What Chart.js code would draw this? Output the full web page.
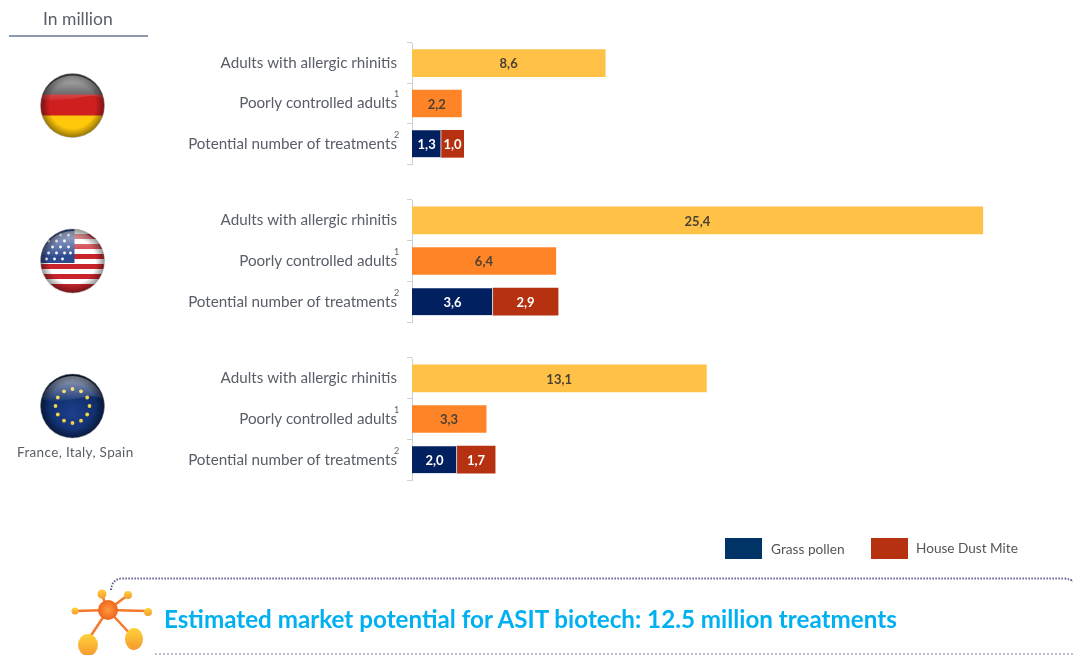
<!DOCTYPE html>
<html><head><meta charset="utf-8">
<script src="https://cdn.jsdelivr.net/npm/chart.js@4"></script>
<style>
html,body{margin:0;padding:0;background:#fff;overflow:hidden}
#page{position:relative;width:1073px;height:655px;filter:blur(0.35px);font-family:Lato,sans-serif;color:#595d68}
canvas.c{position:absolute;left:180px;width:832px}
.t{position:absolute;white-space:nowrap}
.sw{position:absolute;width:37px;height:21px}
svg{position:absolute;left:0;top:0}
</style></head>
<body><div id="page">
<svg width="1073" height="655" viewBox="0 0 1073 655">
<defs>
<clipPath id="cl"><circle cx="0" cy="0" r="32"/></clipPath>
<linearGradient id="gl" x1="0" y1="0" x2="0" y2="1"><stop offset="0" stop-color="#fff" stop-opacity=".6"/><stop offset="1" stop-color="#fff" stop-opacity=".05"/></linearGradient>
<radialGradient id="sh" cx=".5" cy=".5" r=".5"><stop offset=".72" stop-color="#000" stop-opacity="0"/><stop offset="1" stop-color="#000" stop-opacity=".42"/></radialGradient>
<radialGradient id="eu" cx=".5" cy=".62" r=".62"><stop offset="0" stop-color="#1d3f8c"/><stop offset=".75" stop-color="#0d2a63"/><stop offset="1" stop-color="#071634"/></radialGradient>
<radialGradient id="hub" cx=".5" cy=".5" r=".5"><stop offset="0" stop-color="#ff9a3c"/><stop offset="1" stop-color="#f0641e"/></radialGradient>
<linearGradient id="pe" x1="0" y1="0" x2="0" y2="1"><stop offset="0" stop-color="#ffd23c"/><stop offset="1" stop-color="#f59a2e"/></linearGradient>
<g id="gloss"><path d="M-31,-6 A32,32 0 0 1 31,-6 C15,-16 8,-2 -31,-6Z" fill="url(#gl)"/><circle r="32" fill="url(#sh)"/><circle r="32" fill="none" stroke="#9a9a9a" stroke-opacity=".5"/></g>
</defs>
<line x1="9" y1="36" x2="148" y2="36" stroke="#8d98a8" stroke-width="2"/>
<g transform="translate(72.5,105.5)"><g clip-path="url(#cl)"><rect x="-32" y="-32" width="64" height="22" fill="#4a4a4a"/><rect x="-32" y="-11" width="64" height="22" fill="#cf1f1f"/><rect x="-32" y="10" width="64" height="22" fill="#ffc80a"/></g><use href="#gloss"/></g>
<g transform="translate(72.5,261)"><g clip-path="url(#cl)"><rect x="-32" y="-32" width="64" height="64" fill="#fff"/>
<g fill="#c9242c"><rect x="-32" y="-27" width="64" height="5"/><rect x="-32" y="-17" width="64" height="5"/><rect x="-32" y="-7" width="64" height="5"/><rect x="-32" y="3" width="64" height="5"/><rect x="-32" y="13" width="64" height="5"/><rect x="-32" y="23" width="64" height="9"/></g>
<rect x="-32" y="-32" width="34" height="34" fill="#2e4a8e"/>
<g fill="#fff"><circle cx="-24" cy="-8" r="1.4"/><circle cx="-16" cy="-8" r="1.4"/><circle cx="-8" cy="-8" r="1.4"/><circle cx="-2" cy="-8" r="1.4"/><circle cx="-20" cy="-14" r="1.4"/><circle cx="-12" cy="-14" r="1.4"/><circle cx="-4" cy="-14" r="1.4"/><circle cx="-24" cy="-20" r="1.4"/><circle cx="-16" cy="-20" r="1.4"/><circle cx="-8" cy="-20" r="1.4"/><circle cx="-12" cy="-26" r="1.4"/><circle cx="-4" cy="-26" r="1.4"/><circle cx="-26" cy="-2" r="1.4"/><circle cx="-18" cy="-2" r="1.4"/><circle cx="-10" cy="-2" r="1.4"/></g></g><use href="#gloss"/></g>
<g transform="translate(72.5,406)"><circle r="32" fill="url(#eu)"/>
<g fill="#f2d24a"><circle cx="0" cy="-17" r="1.9"/><circle cx="8.5" cy="-14.7" r="1.9"/><circle cx="14.7" cy="-8.5" r="1.9"/><circle cx="17" cy="0" r="1.9"/><circle cx="14.7" cy="8.5" r="1.9"/><circle cx="8.5" cy="14.7" r="1.9"/><circle cx="0" cy="17" r="1.9"/><circle cx="-8.5" cy="14.7" r="1.9"/><circle cx="-14.7" cy="8.5" r="1.9"/><circle cx="-17" cy="0" r="1.9"/><circle cx="-14.7" cy="-8.5" r="1.9"/><circle cx="-8.5" cy="-14.7" r="1.9"/></g><use href="#gloss"/></g>
<path d="M111,590 Q112,579 122,578.5 L1063,578.5 Q1072,579 1073,582" fill="none" stroke="#5e5e90" stroke-width="2" stroke-dasharray="1.5 1.5"/>
<line x1="155" y1="654" x2="1073" y2="654" stroke="#7a7aa0" stroke-width="1" stroke-dasharray="2 2"/>
<g stroke="#f5792a" stroke-width="2.5" fill="none"><line x1="108" y1="610" x2="102" y2="595"/><line x1="108" y1="610" x2="128" y2="595"/><line x1="108" y1="610" x2="76" y2="611"/><line x1="108" y1="610" x2="147" y2="611"/><line x1="108" y1="610" x2="88" y2="640"/><line x1="108" y1="610" x2="133" y2="637"/></g>
<circle cx="108" cy="610" r="10" fill="url(#hub)"/>
<g fill="url(#pe)"><circle cx="102" cy="594" r="4.5"/><circle cx="128" cy="595" r="4"/><circle cx="75" cy="611" r="3.5"/><circle cx="148" cy="612" r="4"/><ellipse cx="88" cy="645" rx="10" ry="11"/><ellipse cx="134" cy="639" rx="9" ry="11"/></g>
</svg>

<div class="t" style="left:43px;top:9px;font-size:17.5px;line-height:20px">In million</div>
<div class="t" style="left:17px;top:444px;font-size:13.5px;line-height:16px;letter-spacing:.35px">France, Italy, Spain</div>
<div class="sw" style="left:725px;top:538px;background:#003366"></div>
<div class="t" style="left:771px;top:541px;font-size:13.7px;line-height:15px;color:#555">Grass pollen</div>
<div class="sw" style="left:871px;top:538px;background:#b5310f"></div>
<div class="t" style="left:916px;top:541px;font-size:13.6px;line-height:15px;color:#555">House Dust Mite</div>
<div class="t" style="left:164px;top:604px;font-size:24.2px;line-height:29px;font-weight:700;color:#00b0f0">Estimated market potential for ASIT biotech: 12.5 million treatments</div>

<canvas class="c" id="c1" style="top:42px" width="832" height="124"></canvas>
<canvas class="c" id="c2" style="top:199px" width="832" height="125"></canvas>
<canvas class="c" id="c3" style="top:357px" width="832" height="125"></canvas>
</div>
<script>
const categories = ['Adults with allergic rhinitis', 'Poorly controlled adults', 'Potential number of treatments'];
const footnotes = ['', '1', '2'];
const germanyTotals = [8.6, 2.2, null];
const germanyGrass = [null, null, 1.3];
const germanyMite = [null, null, 1.0];
const usaTotals = [25.4, 6.4, null];
const usaGrass = [null, null, 3.6];
const usaMite = [null, null, 2.9];
const euTotals = [13.1, 3.3, null];
const euGrass = [null, null, 2.0];
const euMite = [null, null, 1.7];
const xMax = 26.7;

const barLabels = {
  id: 'barLabels',
  afterDatasetsDraw(chart) {
    const ctx = chart.ctx;
    ctx.save();
    ctx.font = 'bold 13px Lato, sans-serif';
    ctx.textAlign = 'center';
    ctx.textBaseline = 'middle';
    chart.data.datasets.forEach((ds, i) => {
      chart.getDatasetMeta(i).data.forEach((el, j) => {
        const v = ds.data[j];
        if (v == null) return;
        ctx.fillStyle = i === 0 ? '#4a4036' : '#ffffff';
        const c = el.getCenterPoint();
        ctx.fillText(v.toFixed(1).replace('.', ','), c.x, c.y + 1);
      });
    });
    const s = chart.scales.y;
    ctx.font = '9px Lato, sans-serif';
    ctx.fillStyle = '#595d68';
    ctx.textAlign = 'left';
    footnotes.forEach((f, j) => {
      if (f) ctx.fillText(f, s.right - 18, s.getPixelForTick(j) - 9);
    });
    ctx.restore();
  }
};

function makeChart(id, totals, grass, mite) {
  new Chart(document.getElementById(id), {
    type: 'bar',
    data: {
      labels: categories,
      datasets: [
        { label: 'Total', data: totals, backgroundColor: ['#ffc247', '#ff8427', '#ff8427'] },
        { label: 'Grass pollen', data: grass, backgroundColor: '#002060', borderColor: '#ffffff', borderWidth: { right: 1 } },
        { label: 'House Dust Mite', data: mite, backgroundColor: '#b5310f', borderColor: '#ffffff', borderWidth: { left: 1 } }
      ]
    },
    options: {
      indexAxis: 'y',
      responsive: false,
      animation: false,
      layout: { padding: { top: 1, bottom: 2 } },
      datasets: { bar: { barThickness: 27 } },
      plugins: { legend: { display: false }, tooltip: { enabled: false } },
      scales: {
        x: { stacked: true, display: false, min: 0, max: xMax },
        y: {
          stacked: true,
          afterFit(s) { s.width = 232; s.paddingTop = 0; s.paddingBottom = 0; },
          border: { color: '#d0d0d0', width: 1 },
          grid: { offset: true, drawOnChartArea: false, tickLength: 5, color: '#d0d0d0' },
          ticks: { color: '#595d68', font: { family: 'Lato, sans-serif', size: 15.2 }, padding: 10, autoSkip: false }
        }
      }
    },
    plugins: [barLabels]
  });
}
makeChart('c1', germanyTotals, germanyGrass, germanyMite);
makeChart('c2', usaTotals, usaGrass, usaMite);
makeChart('c3', euTotals, euGrass, euMite);
</script>
</body></html>
